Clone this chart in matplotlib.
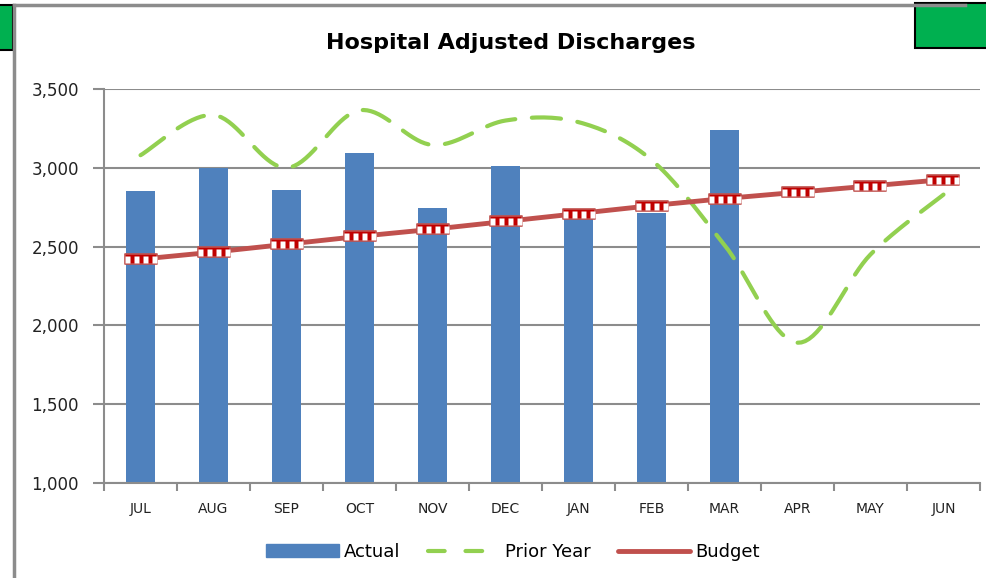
import numpy as np
import matplotlib.pyplot as plt
from matplotlib.path import Path
from matplotlib.patches import Rectangle
from matplotlib.lines import Line2D

months = ["JUL", "AUG", "SEP", "OCT", "NOV", "DEC", "JAN", "FEB", "MAR", "APR", "MAY", "JUN"]
actual = [2850, 3000, 2860, 3095, 2745, 3010, 2700, 2715, 3240]
prior_year = [3080, 3335, 3000, 3365, 3145, 3300, 3290, 3050, 2510, 1890, 2450, 2830]
budget = [2420, 2465, 2515, 2565, 2610, 2660, 2710, 2760, 2805, 2845, 2885, 2925]


def smooth(x, y, n=20):
    # catmull-rom style smoothing, like Excel's smoothed line
    x = np.asarray(x, float)
    y = np.asarray(y, float)
    px = np.concatenate([[x[0]], x, [x[-1]]])
    py = np.concatenate([[y[0]], y, [y[-1]]])
    xs, ys = [], []
    for i in range(1, len(px) - 2):
        p0, p1, p2, p3 = [np.array([px[j], py[j]]) for j in (i - 1, i, i + 1, i + 2)]
        c1 = p1 + (p2 - p0) / 6
        c2 = p2 - (p3 - p1) / 6
        t = np.linspace(0, 1, n)[:, None]
        pts = (1 - t) ** 3 * p1 + 3 * (1 - t) ** 2 * t * c1 + 3 * (1 - t) * t ** 2 * c2 + t ** 3 * p2
        xs.extend(pts[:, 0])
        ys.extend(pts[:, 1])
    return np.array(xs), np.array(ys)


fig = plt.figure(figsize=(9.87, 5.78), dpi=100)
ax = fig.add_axes([0.1054, 0.1644, 0.8875, 0.6816])

x = np.arange(len(months))
ax.bar(x[:len(actual)], actual, width=0.41, color="#4F81BD", zorder=2)

sx, sy = smooth(x, prior_year)
ax.plot(sx, sy, color="#92D050", lw=3, dashes=(7, 4), dash_capstyle="round", zorder=3)

# budget line with wide checkered markers
box = Path([(-1.5, -0.5), (1.5, -0.5), (1.5, 0.5), (-1.5, 0.5), (-1.5, -0.5)],
           [Path.MOVETO, Path.LINETO, Path.LINETO, Path.LINETO, Path.CLOSEPOLY])
verts, codes = [], []
for cx in (-1.0, -0.33, 0.33, 1.0):
    verts += [(cx - 0.2, -0.3), (cx + 0.2, -0.3), (cx + 0.2, 0.2), (cx - 0.2, 0.2), (cx - 0.2, -0.3)]
    codes += [Path.MOVETO, Path.LINETO, Path.LINETO, Path.LINETO, Path.CLOSEPOLY]
checks = Path(verts, codes)
ax.plot(x, budget, color="#C0504D", lw=3.5, marker=box, ms=23, mfc="#C00000",
        mec="#C0504D", mew=1.2, zorder=4)
ax.plot(x, budget, ls="none", marker=checks, ms=23, mfc="white", mec="none", zorder=5)

ax.set_xlim(-0.5, len(months) - 0.5)
ax.set_ylim(1000, 3500)
ax.set_yticks(np.arange(1000, 3501, 500))
ax.set_yticklabels([f"{v:,}" for v in range(1000, 3501, 500)], fontsize=12, color="#222222")
ax.yaxis.grid(True, color="#8C8C8C", lw=1.5, zorder=0)
ax.set_axisbelow(True)
ax.set_xticks(x)
ax.set_xticklabels(months, fontsize=10, color="#222222")
ax.set_xticks(np.arange(-0.5, len(months)), minor=True)
ax.tick_params(axis="x", which="major", length=0, pad=14)
ax.tick_params(axis="x", which="minor", length=6, color="#8C8C8C", width=1.5)
ax.tick_params(axis="y", length=8, color="#8C8C8C", width=1.5, pad=10)
for s in ["top", "right"]:
    ax.spines[s].set_visible(False)
for s in ["left", "bottom"]:
    ax.spines[s].set_color("#8C8C8C")
    ax.spines[s].set_linewidth(1.5)

fig.text(0.517, 0.925, "Hospital Adjusted Discharges", ha="center", va="center",
         fontsize=16, fontweight="bold")

handles = [
    Rectangle((0, 0), 1, 1, color="#4F81BD"),
    Line2D([], [], color="#92D050", lw=3, dashes=(4, 5), dash_capstyle="round"),
    Line2D([], [], color="#C0504D", lw=3.5, solid_capstyle="round"),
]
fig.legend(handles, ["Actual", "Prior Year", "Budget"], loc="center",
           bbox_to_anchor=(0.52, 0.045), ncol=3, frameon=False, fontsize=13,
           handlelength=4, handletextpad=0.3, columnspacing=1.5)

# frame decorations
fig.add_artist(Line2D([14 / 987, 14 / 987], [0, 1 - 5 / 578], color="#8C8C8C", lw=2.5))
fig.add_artist(Line2D([14 / 987, 965 / 987], [1 - 5 / 578, 1 - 5 / 578], color="#8C8C8C", lw=2.5))
fig.add_artist(Rectangle((-0.01, 1 - 50 / 578), 13 / 987 + 0.01, 45 / 578,
                         transform=fig.transFigure, facecolor="#00B050", edgecolor="black", lw=1.5))
fig.add_artist(Rectangle((915 / 987, 1 - 48 / 578), 80 / 987, 45 / 578,
                         transform=fig.transFigure, facecolor="#00B050", edgecolor="black", lw=1.5))

fig.savefig("out.png", dpi=100)
